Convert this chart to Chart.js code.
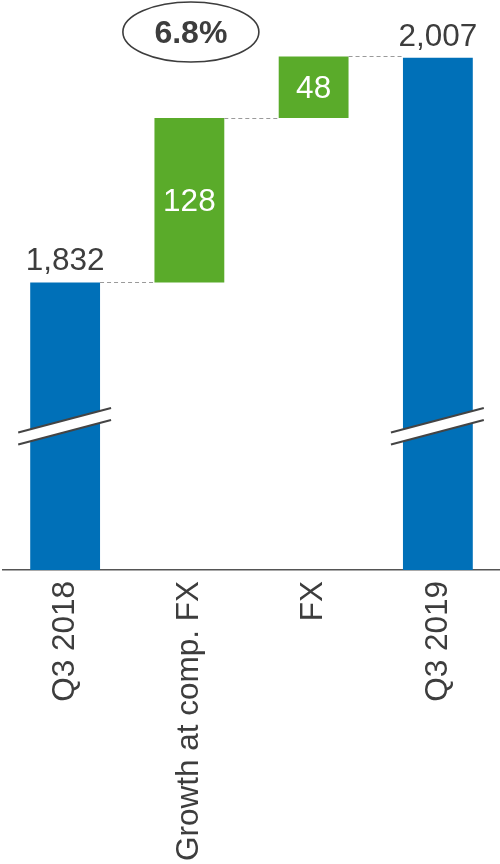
<!DOCTYPE html>
<html>
<head>
<meta charset="utf-8">
<script src="https://cdn.jsdelivr.net/npm/chart.js@4/dist/chart.umd.min.js"></script>
<style>
  html, body { margin: 0; padding: 0; background: #fff; }
  #wrap { width: 500px; height: 864px; position: relative; }
</style>
</head>
<body>
<div id="wrap"><canvas id="bridgeChart"></canvas></div>
<script>
// revenue bridge, Q3 2018 -> Q3 2019
const categories = ['Q3 2018', 'Growth at comp. FX', 'FX', 'Q3 2019'];
const amounts = [1832, 128, 48, 2007];
const isTotal = [true, false, false, true];
const growthRate = '6.8%';

// y axis is cut, bars start at this value
const axisFloor = 1608;
const axisTop = 2052;
const breakValue = 1720;

const blue = '#0070b8';
const green = '#5aab2a';
const textColor = '#3d3d3d';
const fontFamily = '"Liberation Sans", Arial, sans-serif';

// totals stand on the axis, steps float on the running total
let running = 0;
const barData = amounts.map((v, i) => {
    if (isTotal[i]) {
        running = v;
        return v;
    }
    const start = running;
    running += v;
    return [start, running];
});
const levels = barData.map(d => Array.isArray(d) ? d[1] : d);

const fmt = v => v.toLocaleString('en-US');

const bridgeDecor = {
    id: 'bridgeDecor',
    afterDatasetsDraw(chart) {
        const ctx = chart.ctx;
        const y = chart.scales.y;
        const bars = chart.getDatasetMeta(0).data;

        // dashed connectors between bar tops
        ctx.save();
        ctx.strokeStyle = '#9a9a9a';
        ctx.lineWidth = 1.2;
        ctx.setLineDash([4, 3]);
        for (let i = 0; i < bars.length - 1; i++) {
            const py = Math.round(y.getPixelForValue(levels[i])) + 0.5;
            ctx.beginPath();
            ctx.moveTo(bars[i].x + bars[i].width / 2, py);
            ctx.lineTo(bars[i + 1].x - bars[i + 1].width / 2, py);
            ctx.stroke();
        }
        ctx.restore();

        // axis break marks on the total bars
        const by = y.getPixelForValue(breakValue);
        ctx.save();
        bars.forEach((bar, i) => {
            if (!isTotal[i]) return;
            const x0 = bar.x - bar.width / 2 - 12;
            const x1 = bar.x + bar.width / 2 + 11;
            const rise = 24.5 / 2;
            const gap = 6;
            ctx.fillStyle = '#fff';
            ctx.beginPath();
            ctx.moveTo(x0, by + rise - gap);
            ctx.lineTo(x1, by - rise - gap);
            ctx.lineTo(x1, by - rise + gap);
            ctx.lineTo(x0, by + rise + gap);
            ctx.closePath();
            ctx.fill();
            ctx.strokeStyle = '#444';
            ctx.lineWidth = 2;
            [-gap, gap].forEach(off => {
                ctx.beginPath();
                ctx.moveTo(x0, by + rise + off);
                ctx.lineTo(x1, by - rise + off);
                ctx.stroke();
            });
        });
        ctx.restore();

        // value labels
        ctx.save();
        ctx.font = '31.5px ' + fontFamily;
        ctx.textAlign = 'center';
        bars.forEach((bar, i) => {
            if (isTotal[i]) {
                ctx.fillStyle = textColor;
                ctx.textBaseline = 'alphabetic';
                ctx.fillText(fmt(amounts[i]), bar.x, bar.y - 12);
            } else {
                ctx.fillStyle = '#fff';
                ctx.textBaseline = 'middle';
                ctx.fillText(fmt(amounts[i]), bar.x, (bar.y + bar.base) / 2 + 2);
            }
        });

        // growth rate bubble above the growth step
        const gx = bars[1].x + 1.5;
        const gy = 32;
        ctx.strokeStyle = textColor;
        ctx.lineWidth = 1.6;
        ctx.beginPath();
        ctx.ellipse(gx, gy, 68, 30, 0, 0, Math.PI * 2);
        ctx.stroke();
        ctx.fillStyle = textColor;
        ctx.font = 'bold 32px ' + fontFamily;
        ctx.textBaseline = 'middle';
        ctx.fillText(growthRate, gx, gy + 2);
        ctx.restore();
    }
};

const bridgeChart = new Chart('bridgeChart', {
    type: 'bar',
    data: {
        labels: categories,
        datasets: [{
            data: barData,
            backgroundColor: isTotal.map(t => t ? blue : green),
            borderWidth: 0,
            borderSkipped: false,
            categoryPercentage: 1,
            barPercentage: 0.562
        }]
    },
    options: {
        responsive: true,
        maintainAspectRatio: false,
        animation: false,
        layout: {
            padding: { left: 3, right: 0, top: 0, bottom: 0 }
        },
        plugins: {
            legend: { display: false },
            tooltip: { enabled: false }
        },
        scales: {
            x: {
                grid: { display: false },
                border: { display: true, color: '#555', width: 1.5 },
                ticks: {
                    color: textColor,
                    font: { size: 31.5, family: fontFamily },
                    minRotation: 90,
                    maxRotation: 90,
                    padding: 3,
                    autoSkip: false
                },
                afterFit(scale) {
                    scale.height = 294;
                }
            },
            y: {
                display: false,
                min: axisFloor,
                max: axisTop
            }
        }
    },
    plugins: [bridgeDecor]
});
</script>
</body>
</html>
